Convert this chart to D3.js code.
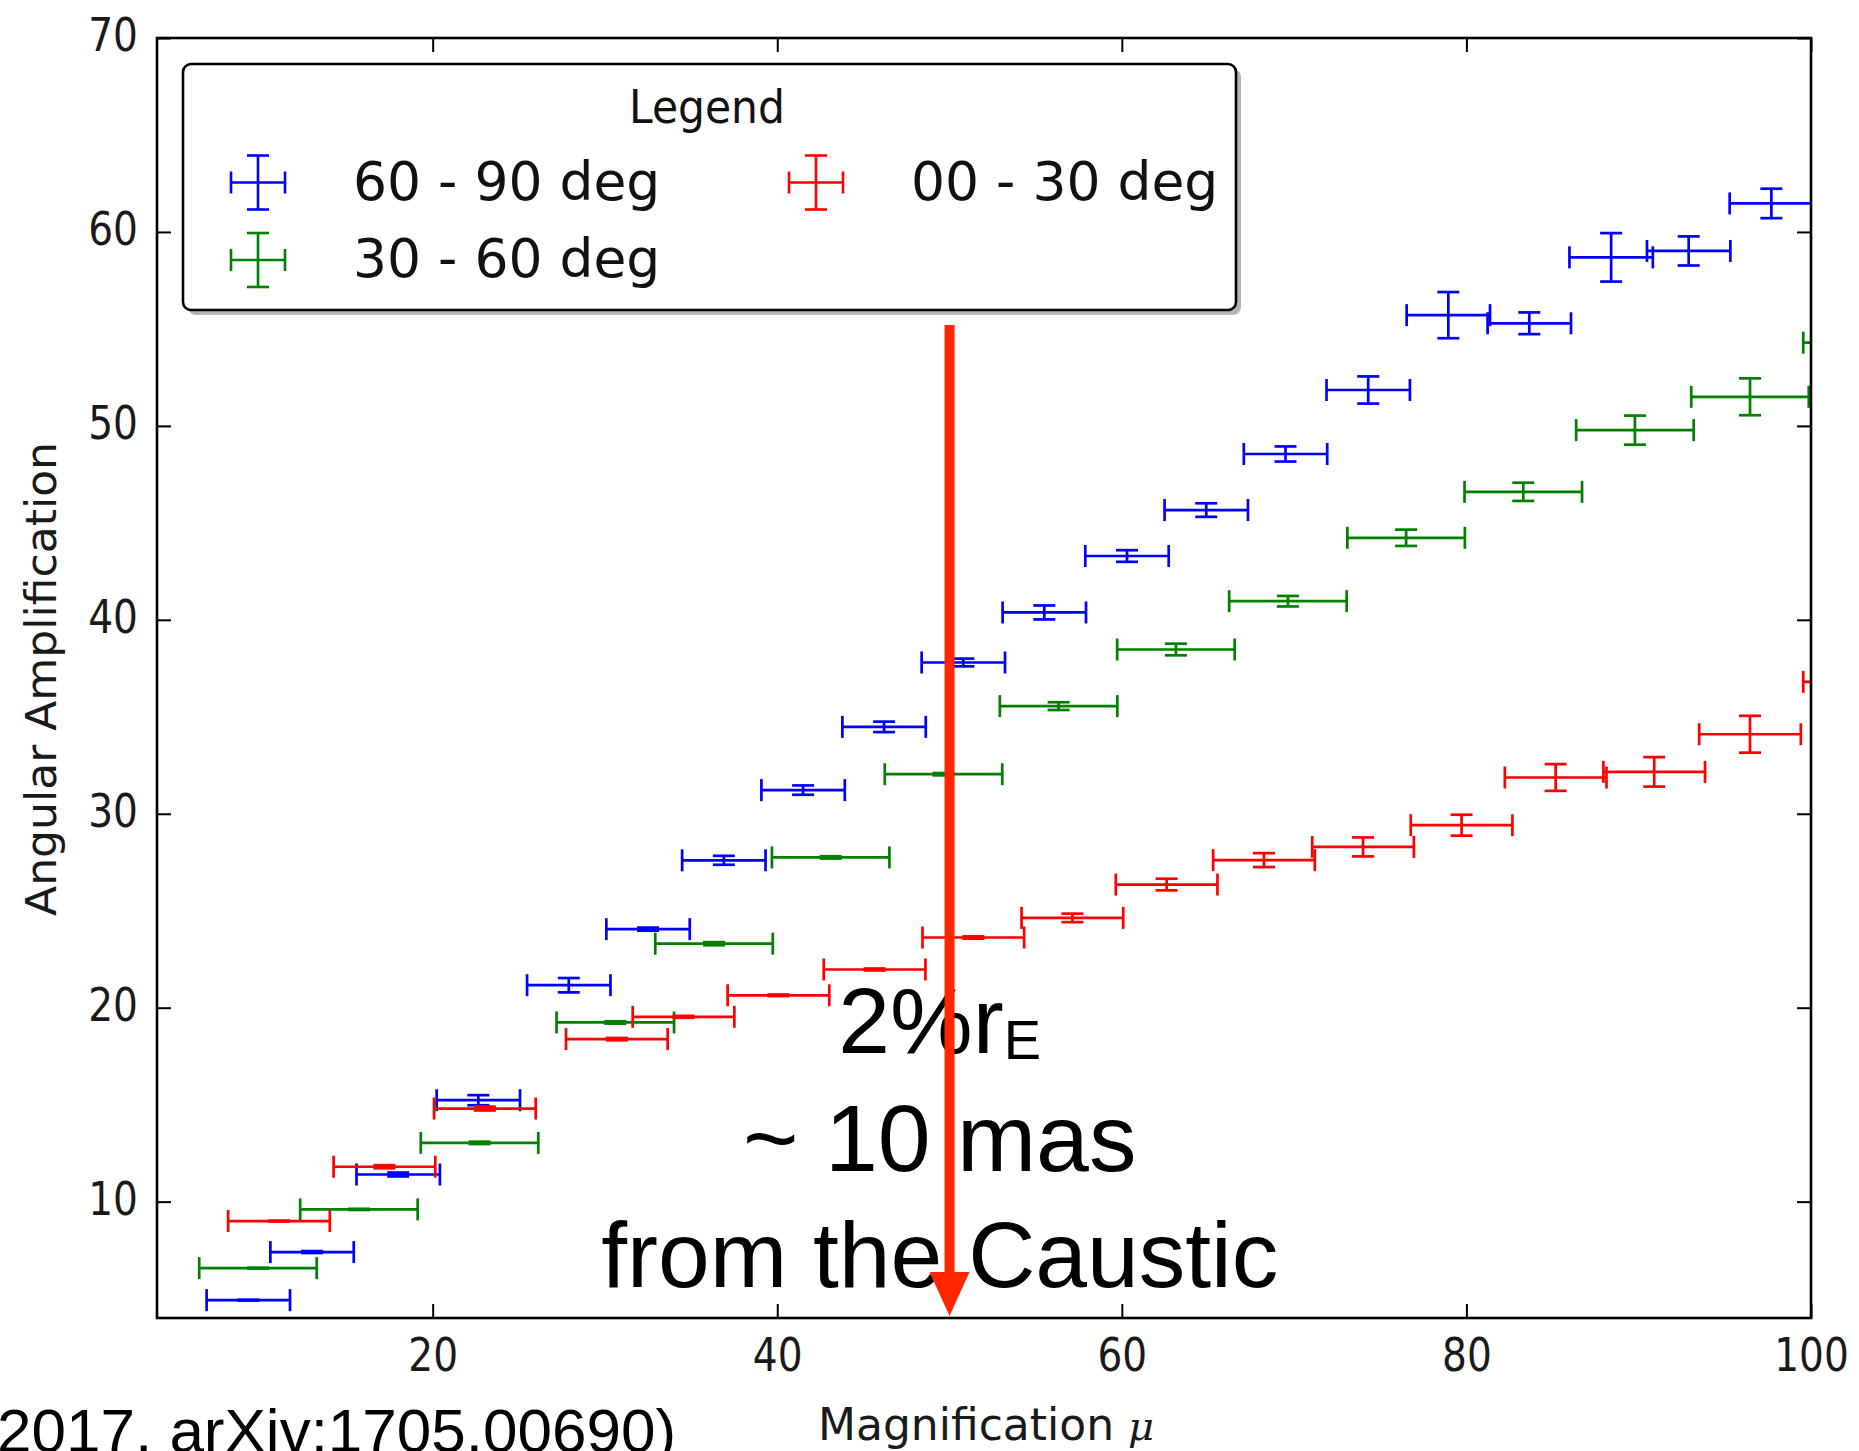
<!DOCTYPE html>
<html><head><meta charset="utf-8">
<script src="https://cdn.jsdelivr.net/npm/d3@7"></script>
<style>body{margin:0;background:#fff;} svg{display:block;}</style>
</head><body>
<svg id="chart" width="1859" height="1451"></svg>
<script>
// ---------- data ----------
const seriesNames = ["60 - 90 deg", "30 - 60 deg", "00 - 30 deg"];
const seriesColors = ["#0000ff", "#008000", "#ff0000"];

const blueX    = [9.3, 13.0, 18.0, 22.65, 27.9, 32.5, 36.9, 41.5, 46.2, 50.8, 55.5, 60.3, 64.9, 69.5, 74.3, 78.95, 83.65, 88.4, 92.9, 97.7];
const blueY    = [4.92, 7.4, 11.4, 15.23, 21.16, 24.05, 27.6, 31.22, 34.48, 37.8, 40.38, 43.29, 45.66, 48.55, 51.85, 55.71, 55.29, 58.69, 59.02, 61.47];
const blueXErr = [2.42, 2.42, 2.42, 2.42, 2.42, 2.42, 2.42, 2.42, 2.42, 2.42, 2.42, 2.42, 2.42, 2.42, 2.42, 2.42, 2.42, 2.42, 2.42, 2.42];
const blueYErr = [0.02, 0.05, 0.1, 0.26, 0.37, 0.08, 0.23, 0.24, 0.27, 0.2, 0.36, 0.3, 0.35, 0.39, 0.7, 1.19, 0.56, 1.25, 0.75, 0.76];

const greenX    = [9.86, 15.72, 22.72, 30.6, 36.33, 43.1, 49.65, 56.33, 63.14, 69.64, 76.5, 83.3, 89.78, 96.46, 102.96];
const greenY    = [6.57, 9.6, 13.03, 19.24, 23.3, 27.75, 32.04, 35.55, 38.47, 40.96, 44.23, 46.6, 49.78, 51.5, 54.29];
const greenXErr = [3.41, 3.41, 3.41, 3.41, 3.41, 3.41, 3.41, 3.41, 3.41, 3.41, 3.41, 3.41, 3.41, 3.41, 3.41];
const greenYErr = [0.02, 0.03, 0.06, 0.06, 0.08, 0.06, 0.06, 0.2, 0.3, 0.27, 0.42, 0.47, 0.75, 0.95, 1.1];

const redX    = [11.08, 17.2, 23.03, 30.69, 34.56, 40.07, 45.65, 51.38, 57.13, 62.6, 68.25, 74.0, 79.72, 85.18, 90.9, 96.46, 102.5];
const redY    = [9.0, 11.8, 14.8, 18.38, 19.53, 20.64, 21.97, 23.62, 24.63, 26.35, 27.61, 28.29, 29.41, 31.87, 32.16, 34.1, 36.8];
const redXErr = [2.95, 2.95, 2.95, 2.95, 2.95, 2.95, 2.95, 2.95, 2.95, 2.95, 2.95, 2.95, 2.95, 2.95, 2.95, 2.95, 2.95];
const redYErr = [0.02, 0.08, 0.1, 0.06, 0.05, 0.04, 0.05, 0.06, 0.22, 0.3, 0.36, 0.49, 0.54, 0.69, 0.76, 0.95, 1.2];

const xTicks = [20, 40, 60, 80, 100];
const yTicks = [10, 20, 30, 40, 50, 60, 70];
const xDomain = [4, 100];
const yDomain = [4, 70];

const xLabel = "Magnification ";
const xLabelSymbol = "\u03bc";
const yLabel = "Angular Amplification";
const legendTitle = "Legend";
const annotationLine1 = "2%r";
const annotationSub = "E";
const annotationLine2 = "~ 10 mas";
const annotationLine3 = "from the Caustic";
const citation = "2017, arXiv:1705.00690)";
const arrowAt = 50;          // magnification where the arrow points
const arrowFrom = 55.2;      // arrow start (y value)
const arrowTo = 4.1;         // arrow tip (y value)

// ---------- layout ----------
const svg = d3.select("#chart");
const P = {left: 157, top: 38, right: 1811, bottom: 1318};
const x = d3.scaleLinear().domain(xDomain).range([P.left, P.right]);
const y = d3.scaleLinear().domain(yDomain).range([P.bottom, P.top]);

svg.append("rect").attr("width", 1859).attr("height", 1451).attr("fill", "#fff");

svg.append("defs").append("clipPath").attr("id", "plotclip")
  .append("rect").attr("x", P.left).attr("y", P.top)
  .attr("width", P.right - P.left).attr("height", P.bottom - P.top);

const tickFont = "DejaVu Sans, Bitstream Vera Sans, sans-serif";

// axes (ticks inward)
const gx = svg.append("g").attr("transform", `translate(0,${P.bottom})`)
  .call(d3.axisBottom(x).tickValues(xTicks).tickFormat(d3.format("d")).tickSizeInner(-14).tickSizeOuter(0).tickPadding(20));
const gxTop = svg.append("g").attr("transform", `translate(0,${P.top})`)
  .call(d3.axisTop(x).tickValues(xTicks).tickFormat("").tickSizeInner(-14).tickSizeOuter(0));
const gy = svg.append("g").attr("transform", `translate(${P.left},0)`)
  .call(d3.axisLeft(y).tickValues(yTicks).tickFormat(d3.format("d")).tickSizeInner(-14).tickSizeOuter(0).tickPadding(19));
const gyR = svg.append("g").attr("transform", `translate(${P.right},0)`)
  .call(d3.axisRight(y).tickValues(yTicks).tickFormat("").tickSizeInner(-14).tickSizeOuter(0));

[gx, gxTop, gy, gyR].forEach(g => {
  g.select(".domain").remove();
  g.selectAll(".tick line").attr("stroke", "#000").attr("stroke-width", 2);
});
[gx, gy].forEach(g => {
  g.selectAll(".tick text")
    .attr("font-family", tickFont).attr("font-size", 46).attr("fill", "#1a1a1a")
    .each(function() {
      const len = this.getComputedTextLength();
      d3.select(this).attr("textLength", len * 0.85).attr("lengthAdjust", "spacingAndGlyphs");
    });
});
gx.selectAll(".tick text").attr("dy", "0.71em");
gy.selectAll(".tick text").attr("dy", "0.27em");

// error bars
function drawSeries(xs, ys, xe, ye, color) {
  const data = xs.map((v, i) => ({x: v, y: ys[i], xe: xe[i], ye: ye[i]}));
  const cap = 11;
  const g = svg.append("g").attr("clip-path", "url(#plotclip)")
    .attr("stroke", color).attr("stroke-width", 2.7).attr("fill", "none");
  const pt = g.selectAll("g").data(data).join("g");
  pt.append("line")
    .attr("x1", d => x(d.x - d.xe)).attr("x2", d => x(d.x + d.xe))
    .attr("y1", d => y(d.y)).attr("y2", d => y(d.y));
  pt.append("line")
    .attr("x1", d => x(d.x)).attr("x2", d => x(d.x))
    .attr("y1", d => y(d.y - d.ye)).attr("y2", d => y(d.y + d.ye));
  // x caps
  pt.append("line")
    .attr("x1", d => x(d.x - d.xe)).attr("x2", d => x(d.x - d.xe))
    .attr("y1", d => y(d.y) - cap).attr("y2", d => y(d.y) + cap);
  pt.append("line")
    .attr("x1", d => x(d.x + d.xe)).attr("x2", d => x(d.x + d.xe))
    .attr("y1", d => y(d.y) - cap).attr("y2", d => y(d.y) + cap);
  // y caps
  pt.append("line")
    .attr("x1", d => x(d.x) - cap).attr("x2", d => x(d.x) + cap)
    .attr("y1", d => y(d.y - d.ye)).attr("y2", d => y(d.y - d.ye));
  pt.append("line")
    .attr("x1", d => x(d.x) - cap).attr("x2", d => x(d.x) + cap)
    .attr("y1", d => y(d.y + d.ye)).attr("y2", d => y(d.y + d.ye));
}
drawSeries(blueX, blueY, blueXErr, blueYErr, seriesColors[0]);
drawSeries(greenX, greenY, greenXErr, greenYErr, seriesColors[1]);
drawSeries(redX, redY, redXErr, redYErr, seriesColors[2]);

// spines
svg.append("rect").attr("x", P.left).attr("y", P.top)
  .attr("width", P.right - P.left).attr("height", P.bottom - P.top)
  .attr("fill", "none").attr("stroke", "#000").attr("stroke-width", 2.6);

// legend
const L = {x: 183, y: 64, w: 1053, h: 246};
const lg = svg.append("g");
lg.append("rect").attr("x", L.x + 5).attr("y", L.y + 5).attr("width", L.w).attr("height", L.h)
  .attr("rx", 8).attr("fill", "#b5b5b5");
lg.append("rect").attr("x", L.x).attr("y", L.y).attr("width", L.w).attr("height", L.h)
  .attr("rx", 8).attr("fill", "#fff").attr("stroke", "#000").attr("stroke-width", 2.6);
lg.append("text").attr("x", 707).attr("y", 123).attr("text-anchor", "middle")
  .attr("font-family", tickFont).attr("font-size", 46).attr("fill", "#111")
  .attr("textLength", 156).attr("lengthAdjust", "spacingAndGlyphs").text(legendTitle);

const legendItems = [
  {name: seriesNames[0], color: seriesColors[0], mx: 258, my: 182.5, tx: 353, ty: 200},
  {name: seriesNames[1], color: seriesColors[1], mx: 258, my: 260, tx: 353, ty: 277},
  {name: seriesNames[2], color: seriesColors[2], mx: 816, my: 182.5, tx: 911, ty: 200}
];
const li = lg.selectAll("g.item").data(legendItems).join("g").attr("class", "item");
const mk = li.append("g").attr("stroke", d => d.color).attr("stroke-width", 2.6);
mk.append("line").attr("x1", d => d.mx - 27).attr("x2", d => d.mx + 27).attr("y1", d => d.my).attr("y2", d => d.my);
mk.append("line").attr("x1", d => d.mx).attr("x2", d => d.mx).attr("y1", d => d.my - 27).attr("y2", d => d.my + 27);
mk.append("line").attr("x1", d => d.mx - 27).attr("x2", d => d.mx - 27).attr("y1", d => d.my - 11).attr("y2", d => d.my + 11);
mk.append("line").attr("x1", d => d.mx + 27).attr("x2", d => d.mx + 27).attr("y1", d => d.my - 11).attr("y2", d => d.my + 11);
mk.append("line").attr("x1", d => d.mx - 11).attr("x2", d => d.mx + 11).attr("y1", d => d.my - 27).attr("y2", d => d.my - 27);
mk.append("line").attr("x1", d => d.mx - 11).attr("x2", d => d.mx + 11).attr("y1", d => d.my + 27).attr("y2", d => d.my + 27);
li.append("text").attr("x", d => d.tx).attr("y", d => d.ty)
  .attr("font-family", tickFont).attr("font-size", 53.5).attr("fill", "#111")
  .text(d => d.name);

// axis labels
svg.append("text").attr("transform", `translate(56,679) rotate(-90)`)
  .attr("text-anchor", "middle").attr("font-family", tickFont).attr("font-size", 43)
  .attr("fill", "#1a1a1a").attr("textLength", 474).attr("lengthAdjust", "spacingAndGlyphs")
  .text(yLabel);
const xl = svg.append("text").attr("x", 818).attr("y", 1440)
  .attr("font-family", tickFont).attr("font-size", 44).attr("fill", "#1a1a1a");
xl.append("tspan").text(xLabel);
xl.append("tspan").attr("font-family", "DejaVu Serif, serif").attr("font-style", "italic")
  .attr("font-size", 40).text(xLabelSymbol);

// annotation text
const annFont = "Liberation Sans, Arial, Helvetica, sans-serif";
const annX = x(49.43);
const a1 = svg.append("text").attr("x", annX).attr("y", 1053).attr("text-anchor", "middle")
  .attr("font-family", annFont).attr("font-size", 93).attr("fill", "#000");
a1.append("tspan").text(annotationLine1);
a1.append("tspan").attr("font-size", 56).attr("dy", 6).text(annotationSub);
svg.append("text").attr("x", annX).attr("y", 1171).attr("text-anchor", "middle")
  .attr("font-family", annFont).attr("font-size", 95).attr("fill", "#000").text(annotationLine2);
svg.append("text").attr("x", annX).attr("y", 1287).attr("text-anchor", "middle")
  .attr("font-family", annFont).attr("font-size", 93).attr("fill", "#000").text(annotationLine3);

// arrow
const arrowColor = "#ff2600";
const ax = x(arrowAt);
svg.append("line").attr("x1", ax).attr("x2", ax)
  .attr("y1", y(arrowFrom)).attr("y2", y(arrowTo) - 40)
  .attr("stroke", arrowColor).attr("stroke-width", 10);
svg.append("path")
  .attr("d", `M${ax - 20},${y(arrowTo) - 44} L${ax + 20},${y(arrowTo) - 44} L${ax},${y(arrowTo)} Z`)
  .attr("fill", arrowColor);

// citation (cut off at the left and bottom edges, as in the reference)
svg.append("text").attr("x", -3).attr("y", 1452)
  .attr("font-family", annFont).attr("font-size", 62).attr("fill", "#000").text(citation);
</script>
</body></html>
